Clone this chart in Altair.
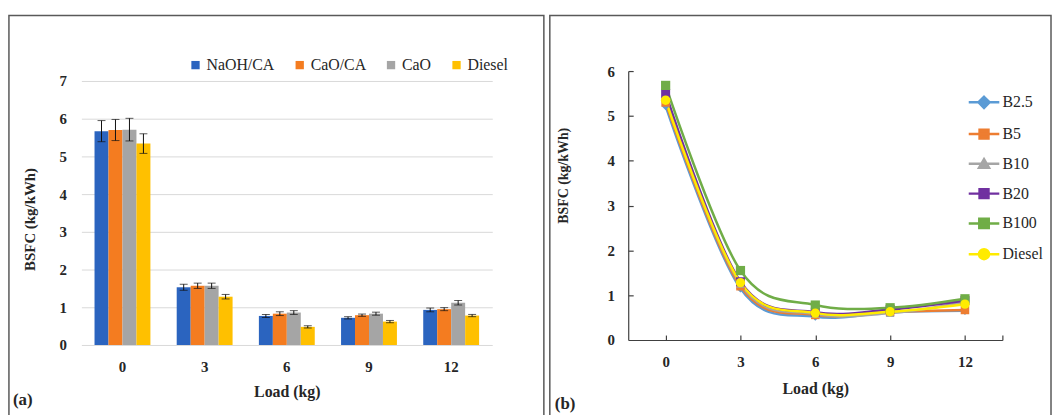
import altair as alt
import pandas as pd

SERIF = "Liberation Serif"
INK = "#262626"
AXIS_GRAY = "#404040"
PANEL_H = 405

# ---------------- panel (a): BSFC by catalyst ----------------
loads_a = ["0", "3", "6", "9", "12"]
catalysts = ["NaOH/CA", "CaO/CA", "CaO", "Diesel"]
bsfc_naoh_ca = [5.67, 1.53, 0.77, 0.72, 0.93]
bsfc_cao_ca = [5.70, 1.57, 0.83, 0.79, 0.95]
bsfc_cao = [5.71, 1.57, 0.86, 0.83, 1.12]
bsfc_diesel_a = [5.34, 1.28, 0.48, 0.62, 0.78]
err_naoh_ca = [0.28, 0.08, 0.04, 0.03, 0.05]
err_cao_ca = [0.28, 0.07, 0.05, 0.03, 0.04]
err_cao = [0.30, 0.07, 0.05, 0.04, 0.06]
err_diesel_a = [0.26, 0.06, 0.03, 0.03, 0.03]
colors_a = ["#2B64BF", "#F47C20", "#A5A5A5", "#FFC000"]

rows_a = []
for name, vals, errs in zip(
    catalysts,
    [bsfc_naoh_ca, bsfc_cao_ca, bsfc_cao, bsfc_diesel_a],
    [err_naoh_ca, err_cao_ca, err_cao, err_diesel_a],
):
    for load, v, e in zip(loads_a, vals, errs):
        rows_a.append({"load": load, "catalyst": name, "bsfc": v, "lo": v - e, "hi": v + e})
df_a = pd.DataFrame(rows_a)

A_W = 539
x_scale_a = alt.Scale(domain=loads_a, range=[73, 487], paddingInner=0.32, paddingOuter=0.16)
y_scale_a = alt.Scale(domain=[0, 7], range=[332, 66], nice=False)
xoff_a = alt.XOffset("catalyst:N", sort=catalysts, scale=alt.Scale(domain=catalysts, paddingInner=0))

x_a = alt.X(
    "load:N", sort=loads_a, scale=x_scale_a,
    axis=alt.Axis(
        title="Load (kg)", labelAngle=0, offset=-(PANEL_H - 332), domain=False, ticks=False,
        tickSize=0, grid=False, labelPadding=15, labelFont=SERIF, labelFontSize=15,
        labelFontWeight="bold", labelColor=INK, titleFont=SERIF, titleFontSize=16,
        titleFontWeight="bold", titleColor=INK, titleY=47, titleBaseline="middle",
    ),
)
y_a = alt.Y(
    "bsfc:Q", scale=y_scale_a,
    axis=alt.Axis(
        title="BSFC (kg/kWh)", values=list(range(8)), offset=-73, domain=False, ticks=False,
        tickSize=0, grid=True, gridColor="#D9D9D9", gridWidth=1, labelPadding=15,
        labelFont=SERIF, labelFontSize=15, labelFontWeight="bold", labelColor=INK,
        titleFont=SERIF, titleFontSize=15, titleFontWeight="bold", titleColor=INK,
        titleAngle=270, titleX=-52, titleY=205, titleBaseline="middle",
    ),
)

bars = alt.Chart(df_a).mark_bar().encode(
    x=x_a,
    xOffset=xoff_a,
    y=y_a,
    color=alt.Color(
        "catalyst:N", sort=catalysts, scale=alt.Scale(domain=catalysts, range=colors_a),
        legend=alt.Legend(
            title=None, orient="none", direction="horizontal", legendX=180, legendY=42,
            symbolType="square", symbolSize=70, symbolStrokeWidth=0, labelFont=SERIF,
            labelFontSize=16, labelColor=INK, columnPadding=17, labelOffset=3,
        ),
    ),
)

err_x = alt.X("load:N", sort=loads_a, scale=x_scale_a, axis=None)
err_rule = alt.Chart(df_a).mark_rule(color="#111111", strokeWidth=1).encode(
    x=err_x, xOffset=xoff_a,
    y=alt.Y("lo:Q", scale=y_scale_a, axis=None), y2="hi:Q",
)
cap_lo = alt.Chart(df_a).mark_tick(color="#111111", thickness=1, size=8).encode(
    x=err_x, xOffset=xoff_a, y=alt.Y("lo:Q", scale=y_scale_a, axis=None),
)
cap_hi = alt.Chart(df_a).mark_tick(color="#111111", thickness=1, size=8).encode(
    x=err_x, xOffset=xoff_a, y=alt.Y("hi:Q", scale=y_scale_a, axis=None),
)
tag_a = alt.Chart(pd.DataFrame({"tag": ["(a)"]})).mark_text(
    font=SERIF, fontSize=17, fontWeight="bold", align="left", baseline="middle", color=INK
).encode(x=alt.value(4), y=alt.value(387), text="tag:N")

panel_a = (
    alt.layer(bars, err_rule, cap_lo, cap_hi, tag_a)
    .resolve_axis(x="independent", y="independent")
    .properties(width=A_W, height=PANEL_H)
)

# ---------------- panel (b): BSFC by blend ----------------
loads_b = [0, 3, 6, 9, 12]
blends = ["B2.5", "B5", "B10", "B20", "B100", "Diesel"]
bsfc_b2_5 = [5.22, 1.15, 0.52, 0.62, 0.65]
bsfc_b5 = [5.30, 1.20, 0.56, 0.63, 0.67]
bsfc_b10 = [5.40, 1.25, 0.58, 0.60, 0.85]
bsfc_b20 = [5.50, 1.30, 0.62, 0.68, 0.88]
bsfc_b100 = [5.68, 1.55, 0.78, 0.72, 0.92]
bsfc_diesel_b = [5.35, 1.28, 0.60, 0.63, 0.80]
colors_b = ["#5B9BD5", "#ED7D31", "#A5A5A5", "#7030A0", "#70AD47", "#FFEB00"]
marker_shapes = ["diamond", "square", "triangle-up", "square", "square", "circle"]
marker_sizes = [70, 90, 70, 90, 100, 95]
# legend glyphs: a short line with the series marker in the middle
legend_paths = [
    "M-1.1,0H1.1M0,-0.4L0.4,0L0,0.4L-0.4,0Z",
    "M-1.1,0H1.1M-0.32,-0.32H0.32V0.32H-0.32Z",
    "M-1.1,0H1.1M0,-0.34L0.36,0.28L-0.36,0.28Z",
    "M-1.1,0H1.1M-0.32,-0.32H0.32V0.32H-0.32Z",
    "M-1.1,0H1.1M-0.34,-0.34H0.34V0.34H-0.34Z",
    "M-1.1,0H1.1M0.36,0A0.36,0.36 0 1,1 -0.36,0A0.36,0.36 0 1,1 0.36,0Z",
]

rows_b = []
for name, vals in zip(blends, [bsfc_b2_5, bsfc_b5, bsfc_b10, bsfc_b20, bsfc_b100, bsfc_diesel_b]):
    for load, v in zip(loads_b, vals):
        rows_b.append({"load": load, "blend": name, "bsfc": v})
df_b = pd.DataFrame(rows_b)

B_W = 505
x_scale_b = alt.Scale(domain=[-1.5, 13.5], range=[79, 456], nice=False, zero=False)
y_scale_b = alt.Scale(domain=[0, 6], range=[327, 56], nice=False)
color_b = alt.Scale(domain=blends, range=colors_b)

x_b = alt.X(
    "load:Q", scale=x_scale_b,
    axis=alt.Axis(
        title="Load (kg)", values=loads_b, offset=-(PANEL_H - 327), ticks=False, tickSize=0,
        grid=False, domainColor=AXIS_GRAY, domainWidth=1.2, labelPadding=15, labelFont=SERIF,
        labelFontSize=15, labelFontWeight="bold", labelColor=INK, titleFont=SERIF,
        titleFontSize=16, titleFontWeight="bold", titleColor=INK, titleY=49,
        titleBaseline="middle",
    ),
)
y_b = alt.Y(
    "bsfc:Q", scale=y_scale_b,
    axis=alt.Axis(
        title="BSFC (kg/kWh)", values=list(range(7)), offset=-79, ticks=False, tickSize=0,
        grid=False, domainColor=AXIS_GRAY, domainWidth=1.2, labelPadding=14, labelFont=SERIF,
        labelFontSize=15, labelFontWeight="bold", labelColor=INK, titleFont=SERIF,
        titleFontSize=14, titleFontWeight="bold", titleColor=INK, titleAngle=270,
        titleX=-65, titleY=161, titleBaseline="middle",
    ),
)

lines = alt.Chart(df_b).mark_line(interpolate="cardinal", strokeWidth=2.5).encode(
    x=x_b, y=y_b,
    color=alt.Color("blend:N", sort=blends, scale=color_b, legend=None),
)

# markers; their axes carry only the inward tick marks
points = alt.Chart(df_b).mark_point(filled=True, opacity=1).encode(
    x=alt.X(
        "load:Q", scale=x_scale_b,
        axis=alt.Axis(
            orient="top", offset=-327, values=[0, 3, 6, 9, 12, 13.5], labels=False,
            domain=False, ticks=True, tickSize=5, tickColor=AXIS_GRAY, tickWidth=1.2,
            grid=False, title=None,
        ),
    ),
    y=alt.Y(
        "bsfc:Q", scale=y_scale_b,
        axis=alt.Axis(
            orient="right", offset=-(B_W - 79), values=[1, 2, 3, 4, 5, 6], labels=False,
            domain=False, ticks=True, tickSize=5, tickColor=AXIS_GRAY, tickWidth=1.2,
            grid=False, title=None,
        ),
    ),
    color=alt.Color("blend:N", sort=blends, scale=color_b, legend=None),
    shape=alt.Shape("blend:N", sort=blends, scale=alt.Scale(domain=blends, range=marker_shapes), legend=None),
    size=alt.Size("blend:N", sort=blends, scale=alt.Scale(domain=blends, range=marker_sizes), legend=None),
)

legend_b = alt.Legend(
    title=None, orient="none", legendX=422, legendY=72, symbolSize=784,
    symbolStrokeWidth=2.5, symbolOpacity=1, labelFont=SERIF, labelFontSize=16,
    labelColor=INK, labelOffset=3, rowPadding=5,
)
legend_layer = alt.Chart(df_b).transform_filter("false").mark_point(
    filled=True, strokeWidth=2.5
).encode(
    x=alt.X("load:Q", scale=x_scale_b, axis=None),
    y=alt.Y("bsfc:Q", scale=y_scale_b, axis=None),
    fill=alt.Fill("blend:N", sort=blends, scale=alt.Scale(domain=blends, range=colors_b), legend=legend_b),
    stroke=alt.Stroke("blend:N", sort=blends, scale=alt.Scale(domain=blends, range=colors_b), legend=legend_b),
    shape=alt.Shape("blend:N", sort=blends, scale=alt.Scale(domain=blends, range=legend_paths), legend=legend_b),
)

tag_b = alt.Chart(pd.DataFrame({"tag": ["(b)"]})).mark_text(
    font=SERIF, fontSize=17, fontWeight="bold", align="left", baseline="middle", color=INK
).encode(x=alt.value(5), y=alt.value(392), text="tag:N")

panel_b = (
    alt.layer(lines, points, legend_layer, tag_b)
    .resolve_scale(shape="independent", fill="independent", stroke="independent")
    .resolve_axis(x="independent", y="independent")
    .properties(width=B_W, height=PANEL_H)
)

chart = (
    alt.hconcat(panel_a, panel_b, spacing=4)
    .resolve_scale(color="independent", shape="independent", size="independent",
                   fill="independent", stroke="independent")
    .properties(padding={"left": 8, "top": 13, "right": 0, "bottom": 0}, background="white")
    .configure_view(stroke="#595959", strokeWidth=1.5)
    .configure_legend(labelFont=SERIF, labelFontSize=16, labelColor=INK)
)

chart.save("out.html", embed_options={"renderer": "svg", "actions": False})
